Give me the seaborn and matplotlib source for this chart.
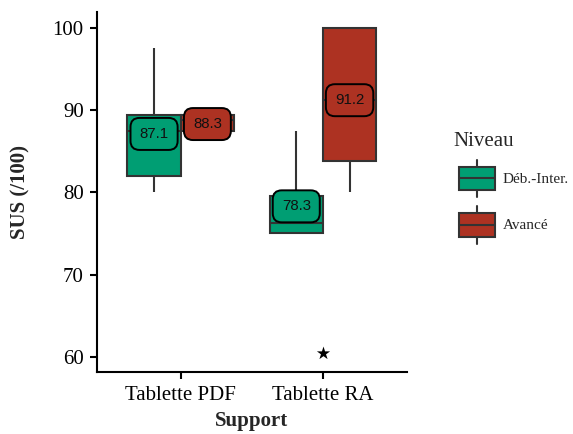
import numpy as np
import pandas as pd
import matplotlib
matplotlib.use("Agg")
import matplotlib.pyplot as plt
from matplotlib.patches import Rectangle
from matplotlib.lines import Line2D
from matplotlib.legend_handler import HandlerBase
import seaborn as sns

# ------------------------------------------------------------
# Données : résumé en 5 valeurs (min, Q1, médiane, Q3, max)
# ------------------------------------------------------------
supports = ["Tablette PDF", "Tablette RA"]
niveaux = ["Déb.-Inter.", "Avancé"]
couleurs = ["#009E73", "#AD3222"]

pdf_deb = [80.0, 82.0, 87.5, 89.4, 97.5]
pdf_avance = [87.5, 87.5, 88.75, 89.4, 89.4]
ra_deb = [75.0, 75.0, 76.25, 79.5, 87.5]
ra_avance = [80.0, 83.75, 91.25, 100.0, 100.0]

# moyennes affichées dans les étiquettes
moy_pdf = [87.1, 88.3]
moy_ra = [78.3, 91.2]

# valeur aberrante
aberrant_support = ["Tablette RA"]
aberrant_sus = [60.5]

rows = []
for sup, niv, vals in [(supports[0], niveaux[0], pdf_deb),
                       (supports[0], niveaux[1], pdf_avance),
                       (supports[1], niveaux[0], ra_deb),
                       (supports[1], niveaux[1], ra_avance)]:
    for v in vals:
        rows.append({"Support": sup, "Niveau": niv, "SUS": v})
df = pd.DataFrame(rows)
palette = dict(zip(niveaux, couleurs))

sns.set_theme(style="ticks")
plt.rcParams['font.family'] = ['Liberation Serif', 'DejaVu Serif']

fig = plt.figure(figsize=(5.73, 4.34), dpi=100)
ax = fig.add_axes([0.169, 0.1435, 0.541, 0.8285])

EDGE = "#333333"
sns.boxplot(data=df, x="Support", y="SUS", hue="Niveau", order=supports,
            hue_order=niveaux, palette=palette, width=0.75, gap=0,
            whis=(0, 100), showfliers=False, showcaps=False, linewidth=1.5,
            linecolor=EDGE, saturation=1, legend=False, ax=ax)

sns.stripplot(x=aberrant_support, y=aberrant_sus, order=supports, jitter=False,
              marker="*", size=10, color="black", linewidth=0, ax=ax)

# étiquettes des moyennes
offsets = [-0.1875, 0.1875]
for i, moys in enumerate([moy_pdf, moy_ra]):
    for j, m in enumerate(moys):
        ax.text(i + offsets[j], m, f"{m:.1f}", ha="center", va="center",
                fontsize=10.8, family=['Liberation Sans', 'DejaVu Sans'],
                color="#111111", zorder=5,
                bbox=dict(boxstyle="round,pad=0.6,rounding_size=0.6",
                          facecolor=couleurs[j], edgecolor="black", linewidth=1.4))

ax.set_xlim(-0.59, 1.59)
ax.set_ylim(58.2, 101.9)
ax.set_yticks([60, 70, 80, 90, 100])
ax.set_xlabel("Support", fontsize=15, fontweight="bold")
ax.set_ylabel("SUS (/100)", fontsize=15, fontweight="bold")
ax.xaxis.set_label_coords(0.5, -0.108)
ax.yaxis.set_label_coords(-0.215, 0.5)
ax.tick_params(axis="both", labelsize=15, length=5, width=1.5, colors="black")
ax.tick_params(axis="x", pad=5)
ax.tick_params(axis="y", pad=4.5)
for s in ["top", "right"]:
    ax.spines[s].set_visible(False)
for s in ["left", "bottom"]:
    ax.spines[s].set_linewidth(1.5)
    ax.spines[s].set_color("black")


class BoxHandler(HandlerBase):
    def create_artists(self, legend, orig_handle, xdescent, ydescent,
                       width, height, fontsize, trans):
        fc = orig_handle.get_facecolor()
        x0, y0 = -xdescent, -ydescent
        x0 = x0 + width * 0.143
        w = width * 0.857
        bh = height * 0.62
        by = y0 + (height - bh) / 2
        cx = x0 + w / 2
        w1 = Line2D([cx, cx], [y0, by], color=EDGE, lw=1.5, transform=trans)
        w2 = Line2D([cx, cx], [by + bh, y0 + height], color=EDGE, lw=1.5, transform=trans)
        rect = Rectangle((x0, by), w, bh, facecolor=fc, edgecolor=EDGE,
                         linewidth=1.5, transform=trans)
        med = Line2D([x0, x0 + w], [y0 + height / 2] * 2, color=EDGE,
                     lw=1.5, transform=trans)
        return [w1, w2, rect, med]


handles = [Rectangle((0, 0), 1, 1, facecolor=c) for c in couleurs]
leg = fig.legend(handles, niveaux, title="Niveau", loc="upper left",
                 bbox_to_anchor=(0.7906, 0.697), borderaxespad=0, borderpad=0,
                 frameon=False, prop={'size': 11}, title_fontsize=15,
                 handlelength=2.75, handleheight=3.4, labelspacing=0.6,
                 handletextpad=0.52, alignment="left",
                 handler_map={Rectangle: BoxHandler()})

fig.savefig("out.png", dpi=100)
